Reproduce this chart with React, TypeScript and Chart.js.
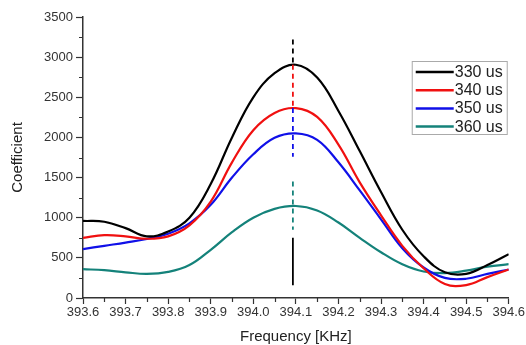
import React, { useEffect, useRef } from 'react';
import { Chart, registerables } from 'chart.js';

Chart.register(...registerables);

// ---- Data ----
const frequencies = [
  393.6, 393.65, 393.7, 393.75, 393.8, 393.85, 393.9, 393.95, 394.0, 394.05, 394.1,
  394.15, 394.2, 394.25, 394.3, 394.35, 394.4, 394.45, 394.5, 394.55, 394.6,
];
const coef330 = [960, 950, 870, 768, 828, 1000, 1420, 2000, 2500, 2800, 2905, 2745, 2330, 1830, 1320, 850, 520, 320, 300, 410, 545];
const coef340 = [750, 782, 768, 738, 768, 905, 1200, 1690, 2090, 2305, 2365, 2255, 1910, 1440, 1030, 650, 370, 175, 160, 260, 355];
const coef350 = [609, 650, 690, 735, 800, 930, 1160, 1500, 1790, 1995, 2050, 1970, 1690, 1340, 980, 620, 380, 250, 240, 300, 355];
const coef360 = [359, 346, 320, 300, 325, 410, 600, 820, 1000, 1110, 1146, 1090, 940, 750, 570, 420, 330, 310, 340, 390, 421];

const seriesLabels = ['330 us', '340 us', '350 us', '360 us'];
const seriesValues = [coef330, coef340, coef350, coef360];
const seriesColors = ['#000000', '#f01010', '#1010e8', '#14827a'];

// vertical marker at the common peak frequency
const markerFrequency = 394.093;
const markerFrom = [3220, 2905, 2367, 1450, 750];
const markerTo = [2905, 2367, 1760, 850, 160];
const markerColors = ['#000000', '#f01010', '#1010e8', '#14827a', '#000000'];
const markerDashed = [true, true, true, true, false];

const xTicks = { min: 393.6, max: 394.6, step: 0.1, minorStep: 0.05 };
const yTicks = { min: 0, max: 3500, step: 500, minorStep: 250 };

const FONT = "Arial, 'Liberation Sans', sans-serif";

const minorTicksPlugin = {
  id: 'minorTicks',
  afterDraw(chart: any) {
    const { ctx, chartArea, scales } = chart;
    ctx.save();
    ctx.strokeStyle = '#333';
    ctx.lineWidth = 1.2;
    ctx.beginPath();
    for (let v = yTicks.minorStep; v < yTicks.max; v += yTicks.step) {
      const y = Math.round(scales.y.getPixelForValue(v)) + 0.5;
      ctx.moveTo(chartArea.left - 4, y);
      ctx.lineTo(chartArea.left, y);
    }
    for (let i = 0; i < 10; i++) {
      const v = xTicks.min + xTicks.minorStep + i * xTicks.step;
      const x = Math.round(scales.x.getPixelForValue(v)) + 0.5;
      ctx.moveTo(x, chartArea.bottom);
      ctx.lineTo(x, chartArea.bottom + 4);
    }
    ctx.stroke();
    ctx.restore();
  },
};

const boxLegendPlugin = {
  id: 'boxLegend',
  afterDraw(chart: any) {
    const { ctx, chartArea } = chart;
    const w = 95;
    const h = 73;
    const left = chartArea.right - w - 2;
    const top = chartArea.top + 44;
    ctx.save();
    ctx.fillStyle = '#ffffff';
    ctx.fillRect(left, top, w, h);
    ctx.strokeStyle = '#aaaaaa';
    ctx.lineWidth = 1;
    ctx.strokeRect(left + 0.5, top + 0.5, w, h);
    ctx.font = `16px ${FONT}`;
    ctx.textBaseline = 'middle';
    ctx.textAlign = 'left';
    seriesLabels.forEach((label, i) => {
      const y = top + 11 + i * 18.2;
      ctx.strokeStyle = seriesColors[i];
      ctx.lineWidth = 2.5;
      ctx.beginPath();
      ctx.moveTo(left + 4, y);
      ctx.lineTo(left + 42, y);
      ctx.stroke();
      ctx.fillStyle = '#222';
      ctx.fillText(label, left + 43, y + 0.5);
    });
    ctx.restore();
  },
};

export default function App() {
  const canvasRef = useRef<HTMLCanvasElement | null>(null);

  useEffect(() => {
    document.body.style.margin = '0';
    const canvas = canvasRef.current;
    if (!canvas) return;

    const lineSets = seriesLabels.map((label, i) => ({
      label,
      data: frequencies.map((f, j) => ({ x: f, y: seriesValues[i][j] })),
      borderColor: seriesColors[i],
      backgroundColor: seriesColors[i],
      borderWidth: 2.2,
      pointRadius: 0,
      tension: 0.4,
      fill: false,
    }));

    const markerSets = markerFrom.map((from, i) => ({
      label: `marker${i}`,
      data: [
        { x: markerFrequency, y: from },
        { x: markerFrequency, y: markerTo[i] },
      ],
      borderColor: markerColors[i],
      borderWidth: 1.8,
      borderDash: markerDashed[i] ? [5, 4] : [],
      pointRadius: 0,
      fill: false,
    }));

    const chart = new Chart(canvas, {
      type: 'line',
      data: { datasets: [...markerSets, ...lineSets] as any },
      options: {
        animation: false,
        responsive: true,
        maintainAspectRatio: false,
        layout: { padding: { left: 0, right: 16, top: 17, bottom: 0 } },
        plugins: {
          legend: { display: false },
          tooltip: { enabled: false },
        },
        scales: {
          x: {
            type: 'linear',
            min: xTicks.min,
            max: xTicks.max,
            afterFit(scale: any) {
              scale.height = 47;
            },
            border: { display: true, color: '#333', width: 1.5 },
            grid: { display: true, drawOnChartArea: false, drawTicks: true, tickLength: 6, tickColor: '#333', tickWidth: 1.2 },
            ticks: {
              stepSize: xTicks.step,
              autoSkip: false,
              maxRotation: 0,
              padding: 1,
              color: '#333',
              font: { family: FONT, size: 13 },
              callback: (v: any) => Number(v).toFixed(1),
            },
            title: {
              display: true,
              text: 'Frequency [KHz]',
              color: '#222',
              font: { family: FONT, size: 15, lineHeight: 1.1 },
              padding: { top: 2, bottom: 0 },
            },
          },
          y: {
            type: 'linear',
            min: yTicks.min,
            max: yTicks.max,
            afterFit(scale: any) {
              scale.width = 83;
            },
            border: { display: true, color: '#333', width: 1.5 },
            grid: { display: true, drawOnChartArea: false, drawTicks: true, tickLength: 7, tickColor: '#333', tickWidth: 1.2 },
            ticks: {
              stepSize: yTicks.step,
              padding: 3,
              color: '#333',
              font: { family: FONT, size: 13 },
              callback: (v: any) => String(v),
            },
            title: {
              display: true,
              text: 'Coefficient',
              color: '#222',
              font: { family: FONT, size: 15 },
              padding: { top: 9, bottom: 0 },
            },
          },
        },
      },
      plugins: [minorTicksPlugin, boxLegendPlugin],
    });

    return () => chart.destroy();
  }, []);

  return (
    <div style={{ position: 'relative', width: 526, height: 345 }}>
      <canvas ref={canvasRef} />
    </div>
  );
}
